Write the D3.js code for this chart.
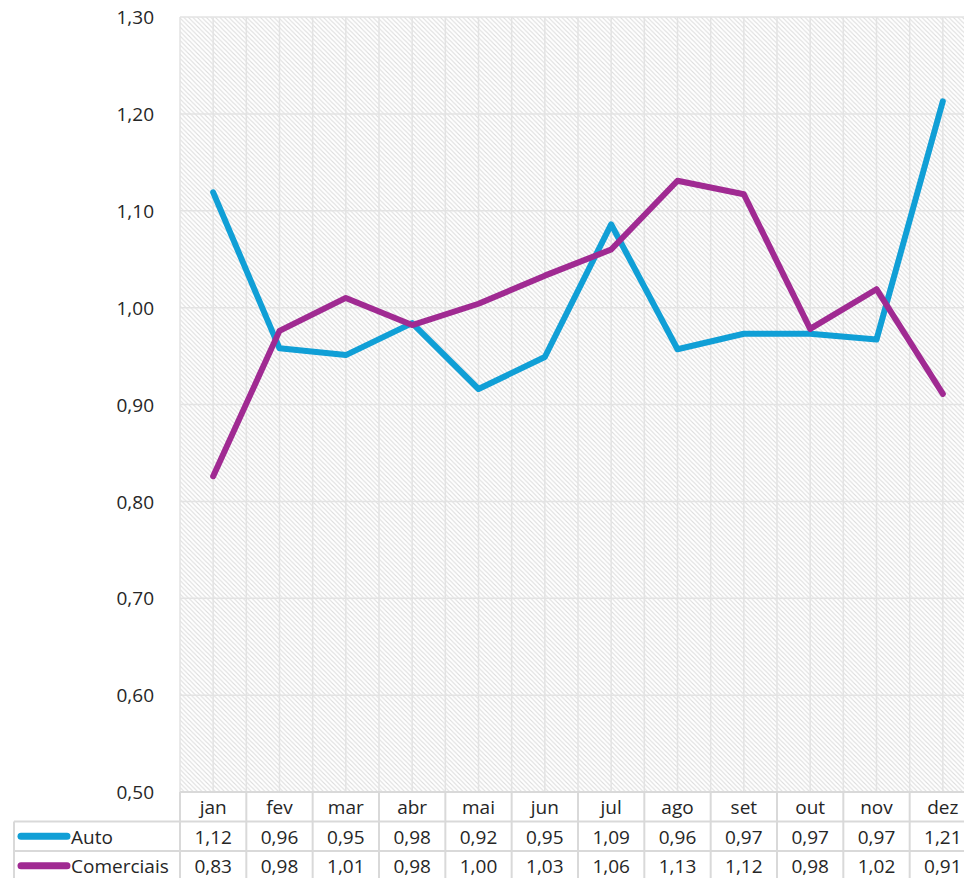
<!DOCTYPE html>
<html><head><meta charset="utf-8">
<script src="https://cdn.jsdelivr.net/npm/d3@7"></script>
<style>
html,body{margin:0;padding:0;background:#fff;overflow:hidden}
text{font-family:"Open Sans",Lato,sans-serif;fill:#262626}
</style></head>
<body><svg id="c" width="964" height="878"></svg>
<script>
const months = ["jan","fev","mar","abr","mai","jun","jul","ago","set","out","nov","dez"];
const autoValues = [1.119,0.958,0.951,0.984,0.916,0.949,1.086,0.957,0.973,0.973,0.967,1.213];
const comerciaisValues = [0.826,0.976,1.010,0.982,1.004,1.033,1.060,1.131,1.117,0.978,1.019,0.911];
const yTicks = [0.5,0.6,0.7,0.8,0.9,1.0,1.1,1.2,1.3];
const seriesNames = ["Auto","Comerciais"];
const seriesColors = ["#109fd6","#a02a92"];

const svg = d3.select("#c");
const pL = 180, pR = 976, pT = 17, pB = 792;
const x = d3.scaleBand().domain(months).range([pL, pR]);
const y = d3.scaleLinear().domain([0.5,1.3]).range([pB, pT]);
const fmt = v => d3.format(".2f")(v).replace(".", ",");
const FS = 19;

// hatch pattern
const defs = svg.append("defs");
const pat = defs.append("pattern").attr("id","hatch").attr("patternUnits","userSpaceOnUse")
  .attr("width",4.5).attr("height",4.5);
pat.append("rect").attr("width",4.5).attr("height",4.5).attr("fill","#fff");
pat.append("path").attr("d","M-1,-1 L5.5,5.5 M-1,3.5 L1,5.5 M3.5,-1 L5.5,1")
  .attr("stroke","#dcdcdc").attr("stroke-width",1.1);

svg.append("rect").attr("x",pL).attr("y",pT).attr("width",pR-pL).attr("height",pB-pT)
  .attr("fill","url(#hatch)");

// grid
const g = svg.append("g");
yTicks.forEach(t => {
  g.append("line").attr("x1",pL).attr("x2",pR).attr("y1",y(t)).attr("y2",y(t))
    .attr("stroke","#e3e3e3").attr("stroke-width",1.5);
});
months.forEach(m => {
  [x(m), x(m)+x.bandwidth()/2].forEach(px => {
    g.append("line").attr("x1",px).attr("x2",px).attr("y1",pT).attr("y2",pB)
      .attr("stroke","#e3e3e3").attr("stroke-width",1.5);
  });
});

// y axis labels
const yAxis = d3.axisLeft(y).tickValues(yTicks).tickFormat(fmt).tickSize(0).tickPadding(0);
const ya = svg.append("g").attr("transform",`translate(154,0)`).call(yAxis);
ya.select(".domain").remove();
ya.selectAll("text").attr("font-size",FS).attr("font-family","Open Sans").attr("fill","#262626").attr("dy","0.35em");

// lines
const line = d3.line().x((d,i) => x(months[i]) + x.bandwidth()/2).y(d => y(d));
[autoValues, comerciaisValues].forEach((vals, si) => {
  svg.append("path").datum(vals).attr("d", line).attr("fill","none")
    .attr("stroke", seriesColors[si]).attr("stroke-width",6)
    .attr("stroke-linejoin","round").attr("stroke-linecap","round");
});

// data table
const rowH = 29.5;
const tb = svg.append("g");
const bc = "#d9d9d9";
tb.append("line").attr("x1",pL).attr("x2",pR).attr("y1",pB).attr("y2",pB).attr("stroke",bc).attr("stroke-width",2);
[1,2,3].forEach(r => {
  tb.append("line").attr("x1",14).attr("x2",pR).attr("y1",pB+r*rowH).attr("y2",pB+r*rowH).attr("stroke",bc).attr("stroke-width",2);
});
months.forEach(m => {
  tb.append("line").attr("x1",x(m)).attr("x2",x(m)).attr("y1",pB).attr("y2",pB+3*rowH).attr("stroke",bc).attr("stroke-width",2);
});
tb.append("line").attr("x1",pR).attr("x2",pR).attr("y1",pB).attr("y2",pB+3*rowH).attr("stroke",bc).attr("stroke-width",2);
tb.append("line").attr("x1",14).attr("x2",14).attr("y1",pB+rowH).attr("y2",pB+3*rowH).attr("stroke",bc).attr("stroke-width",2);

months.forEach(m => {
  tb.append("text").attr("x",x(m)+x.bandwidth()/2).attr("y",pB+rowH/2+1).attr("dy","0.35em")
    .attr("text-anchor","middle").attr("font-size",FS).text(m);
});
[autoValues, comerciaisValues].forEach((vals, si) => {
  const cy = pB + (si+1)*rowH + rowH/2 + 1;
  vals.forEach((v,i) => {
    tb.append("text").attr("x",x(months[i])+x.bandwidth()/2).attr("y",cy).attr("dy","0.35em")
      .attr("text-anchor","middle").attr("font-size",FS).text(fmt(v));
  });
  tb.append("line").attr("x1",21).attr("x2",67).attr("y1",cy-1).attr("y2",cy-1)
    .attr("stroke",seriesColors[si]).attr("stroke-width",7).attr("stroke-linecap","round");
  tb.append("text").attr("x",71).attr("y",cy).attr("dy","0.35em").attr("font-size",FS).text(seriesNames[si]);
});
</script></body></html>
